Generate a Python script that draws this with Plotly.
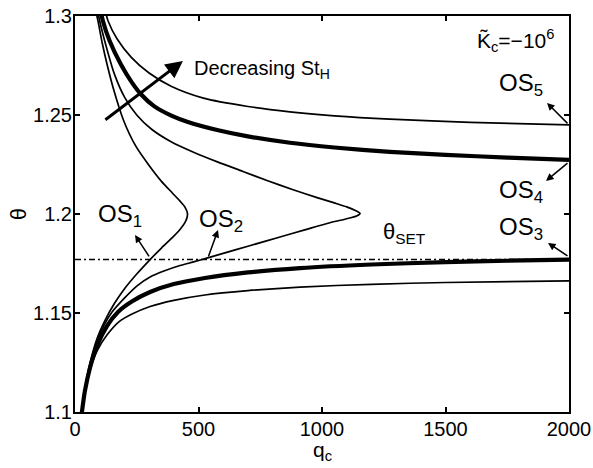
import plotly.graph_objects as go

# Operating curves theta vs q_c (theta_SET = 1.177, K_c = -1e6)
theta_set = 1.177

# OS1: upper branch from the top, nose near q=455, lower branch back down
os1_q = [80, 93, 110, 130, 155, 196, 245, 300, 350, 395, 425, 445, 455, 454, 445, 425, 395,
         350, 304, 250, 202, 160, 121, 90, 60, 40, 28, 22]
os1_t = [1.305, 1.2975, 1.2865, 1.2755, 1.2635, 1.2475, 1.2345, 1.2245, 1.2165, 1.2105,
         1.2065, 1.2035, 1.2005, 1.1985, 1.1956, 1.1922, 1.1882, 1.1828, 1.177, 1.1697,
         1.1625, 1.1549, 1.1462, 1.1374, 1.1244, 1.1114, 1.100, 1.094]

# OS2: upper branch, nose near q=1154, lower branch
os2_q = [88, 100, 130, 160, 201, 250, 310, 389, 480, 579, 680, 780, 880, 980, 1050, 1100,
         1135, 1154, 1140, 1100, 1032, 930, 830, 700, 600, 534, 480, 425, 360, 304, 250,
         200, 150, 120, 90, 60, 40, 28, 22]
os2_t = [1.305, 1.2975, 1.283, 1.2705, 1.2589, 1.250, 1.2428, 1.2365, 1.2312, 1.2262,
         1.2215, 1.2168, 1.2124, 1.2083, 1.2056, 1.2036, 1.2018, 1.2003, 1.199, 1.1976,
         1.1956, 1.192, 1.1884, 1.1837, 1.1801, 1.1777, 1.1758, 1.174, 1.1712, 1.1682,
         1.1636, 1.1575, 1.1505, 1.1444, 1.136, 1.1236, 1.111, 1.100, 1.094]

# OS3: thick lower curve approaching theta_SET
os3_q = [22, 28, 40, 60, 90, 130, 174, 230, 304, 400, 526, 700, 911, 1200, 1500, 1750, 2000]
os3_t = [1.094, 1.100, 1.1105, 1.122, 1.1336, 1.1435, 1.1505, 1.1558, 1.1606, 1.1646,
         1.1677, 1.1705, 1.1727, 1.1745, 1.1757, 1.1764, 1.177]

# lowest thin curve
low_q = [22, 28, 40, 60, 90, 130, 180, 231, 304, 400, 526, 700, 911, 1200, 1500, 2000]
low_t = [1.094, 1.100, 1.110, 1.121, 1.131, 1.139, 1.1458, 1.1495, 1.1533, 1.1564, 1.1591,
         1.1613, 1.1631, 1.1645, 1.1654, 1.1662]

# OS4: thick upper curve
os4_q = [100, 113, 140, 186, 230, 267, 320, 390, 457, 580, 700, 870, 1050, 1275, 1500,
         1750, 2000]
os4_t = [1.305, 1.2975, 1.2875, 1.2755, 1.2665, 1.2605, 1.2545, 1.2497, 1.2465, 1.2423,
         1.2392, 1.236, 1.2336, 1.2314, 1.2299, 1.2285, 1.2273]

# OS5: thin topmost curve
os5_q = [118, 134, 170, 228, 300, 389, 520, 700, 870, 1050, 1275, 1600, 2000]
os5_t = [1.305, 1.2975, 1.2885, 1.2791, 1.2712, 1.2645, 1.2585, 1.2543, 1.2516, 1.2496,
         1.2479, 1.2463, 1.245]

x_ticks = [0, 500, 1000, 1500, 2000]
y_ticks = [1.1, 1.15, 1.2, 1.25, 1.3]
y_tick_text = ["1.1", "1.15", "1.2", "1.25", "1.3"]

FONT = "Liberation Sans, Arial, Helvetica, sans-serif"
THIN = 1.7
THICK = 4.2

fig = go.Figure()


def curve(q, t, w):
    fig.add_trace(go.Scatter(x=q, y=t, mode="lines",
                             line=dict(color="black", width=w, shape="spline", smoothing=0.7),
                             showlegend=False, hoverinfo="skip"))


curve(low_q, low_t, THIN)
curve(os3_q, os3_t, THICK)
curve(os2_q, os2_t, THIN)
curve(os1_q, os1_t, THIN)
curve(os4_q, os4_t, THICK)
curve(os5_q, os5_t, THIN)

# set-point line
fig.add_trace(go.Scatter(x=[0, 2000], y=[theta_set, theta_set], mode="lines",
                         line=dict(color="black", width=1.5, dash="6px,3px,2px,3px"),
                         showlegend=False, hoverinfo="skip"))

annotations = []


def label(text, q, t, size=24):
    annotations.append(dict(x=q, y=t, xref="x", yref="y", text=text, showarrow=False,
                            xanchor="left", yanchor="middle",
                            font=dict(family=FONT, size=size, color="black")))


def arrow(q0, t0, q1, t1, width=1.5, head=2, size=1.0):
    annotations.append(dict(x=q1, y=t1, ax=q0, ay=t0, xref="x", yref="y", axref="x",
                            ayref="y", text="", showarrow=True, arrowhead=head,
                            arrowsize=size, arrowwidth=width, arrowcolor="black"))


label("OS<sub>1</sub>", 86, 1.1992)
label("OS<sub>2</sub>", 494, 1.1968)
label("OS<sub>5</sub>", 1710, 1.2652)
label("OS<sub>4</sub>", 1710, 1.2112)
label("OS<sub>3</sub>", 1710, 1.1925)
label("θ<sub>SET</sub>", 1237, 1.1905, size=22)
label("K̃<sub>c</sub>=−10<sup>6</sup>", 1619, 1.2875, size=21)
label("Decreasing St<sub>H</sub>", 472, 1.2728, size=20)

arrow(304, 1.1778, 243, 1.1894)
arrow(538, 1.1778, 579, 1.1919)
arrow(2000, 1.245, 1911, 1.2561)
arrow(2000, 1.2263, 1907, 1.2167)
arrow(2000, 1.1783, 1915, 1.1854)
arrow(117, 1.247, 437, 1.2773, width=3, head=2, size=1.15)

# axis titles placed as paper annotations
annotations.append(dict(x=0.5, y=-0.1364, xref="paper", yref="paper", text="q<sub>c</sub>",
                        showarrow=False, xanchor="center", yanchor="bottom",
                        font=dict(family=FONT, size=21, color="black")))
annotations.append(dict(x=-0.115, y=0.5, xref="paper", yref="paper", text="θ",
                        showarrow=False, xanchor="center", yanchor="middle", textangle=-90,
                        font=dict(family=FONT, size=22, color="black")))

fig.update_layout(
    width=593, height=468,
    margin=dict(l=75, r=24, t=16, b=56),
    paper_bgcolor="white", plot_bgcolor="white",
    font=dict(family=FONT, size=20, color="black"),
    annotations=annotations,
    xaxis=dict(range=[0, 2000], tickvals=x_ticks, ticks="inside", ticklen=5, tickwidth=1.5,
               tickcolor="black", showline=True, linecolor="black", linewidth=2,
               mirror="ticks", showgrid=False, zeroline=False, automargin=False,
               ticklabelstandoff=-2, tickfont=dict(family=FONT, size=20)),
    yaxis=dict(range=[1.1, 1.3], tickvals=y_ticks, ticktext=y_tick_text, ticks="inside",
               ticklen=5, tickwidth=1.5, tickcolor="black", showline=True, linecolor="black",
               linewidth=2, mirror="ticks", showgrid=False, zeroline=False, automargin=False,
               ticklabelstandoff=-3, tickfont=dict(family=FONT, size=20)),
)

fig.write_html("out.html")
